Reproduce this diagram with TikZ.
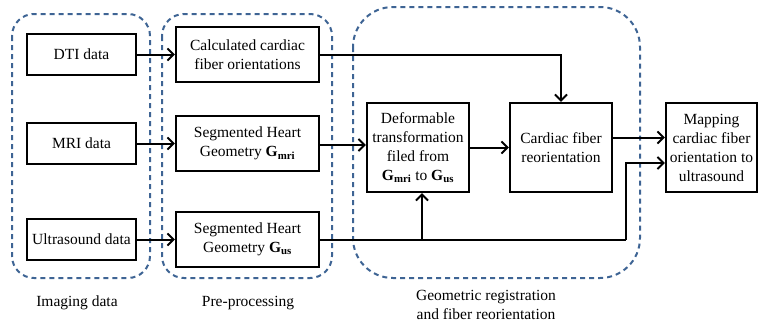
\documentclass[tikz,border=0pt]{standalone}
\usepackage{fontspec}
\setmainfont{Liberation Serif}
\usetikzlibrary{arrows.meta}
\definecolor{grpblue}{RGB}{62,100,148}
\begin{document}
\begin{tikzpicture}[x=1pt,y=-1pt,
    font=\fontsize{15.5}{19}\selectfont,
    box/.style={draw,line width=2.2pt,align=center,inner sep=1pt},
    group/.style={draw=grpblue,line width=2pt,dash pattern=on 5pt off 4pt},
    arr/.style={line width=2pt,-{Straight Barb[length=6pt,width=12pt,line width=2pt]}},
    grplabel/.style={align=center}]
        \useasboundingbox (0,0) rectangle (760,327);

        % Draw the dashed groups
        \draw[group,rounded corners=22pt] (12,14) rectangle (150,278);
        \draw[group,rounded corners=22pt] (162,14) rectangle (332,278);
        \draw[group,rounded corners=40pt] (353,7) rectangle (640,278);
        \node[grplabel] (imglabel) at (77,303) {Imaging data};
        \node[grplabel] (prelabel) at (248,303) {Pre-processing};
        \node[grplabel] (geolabel) at (486,305) {Geometric registration\\and fiber reorientation};

        % Draw the imaging data
        \node[box,minimum width=109pt,minimum height=41pt] (dti) at (81.5,54.5) {DTI data};
        \node[box,minimum width=109pt,minimum height=41pt] (mri) at (81.5,143.5) {MRI data};
        \node[box,minimum width=109pt,minimum height=41pt] (us) at (81.5,239.5) {Ultrasound data};

        % Draw the pre-processing
        \node[box,minimum width=143pt,minimum height=55pt] (calc) at (247.5,54.5) {Calculated cardiac\\fiber orientations};
        \node[box,minimum width=143pt,minimum height=55pt] (segmri) at (247.5,143.5) {Segmented Heart\\Geometry \textbf{G}\textsubscript{\textbf{mri}}};
        \node[box,minimum width=143pt,minimum height=55pt] (segus) at (247.5,239.5) {Segmented Heart\\Geometry \textbf{G}\textsubscript{\textbf{us}}};

        % Draw the registration and the mapping
        \node[box,minimum width=102pt,minimum height=89pt] (deform) at (418,147.5) {Deformable\\transformation\\filed from\\\textbf{G}\textsubscript{\textbf{mri}} to \textbf{G}\textsubscript{\textbf{us}}};
        \node[box,minimum width=102pt,minimum height=89pt] (reorient) at (561,147.5) {Cardiac fiber\\reorientation};
        \node[box,minimum width=91pt,minimum height=89pt] (mapping) at (711.5,147.5) {Mapping\\cardiac fiber\\orientation to\\ultrasound};

        % Draw the arrows
        \coordinate (turn) at (626,239.5);
        \coordinate (branch) at (422,239.5);
        \draw[arr] (dti) -- (calc);
        \draw[arr] (mri) -- (segmri);
        \draw[arr] (us) -- (segus);
        \draw[arr] (calc.east) -| (reorient.north);
        \draw[arr] ([yshift=-1.5pt]segmri.east) -- ([yshift=-1.5pt]segmri.east -| deform.west);
        \draw[arr] (deform) -- (reorient);
        \draw[arr] ([yshift=10pt]reorient.east) -- ([yshift=10pt]reorient.east -| mapping.west);
        \draw[line width=2pt] (segus.east) -- (turn);
        \draw[arr] (turn) |- ([yshift=-15.5pt]mapping.west);
        \draw[arr] (branch) -- (branch |- deform.south);
    \end{tikzpicture}
\end{document}
